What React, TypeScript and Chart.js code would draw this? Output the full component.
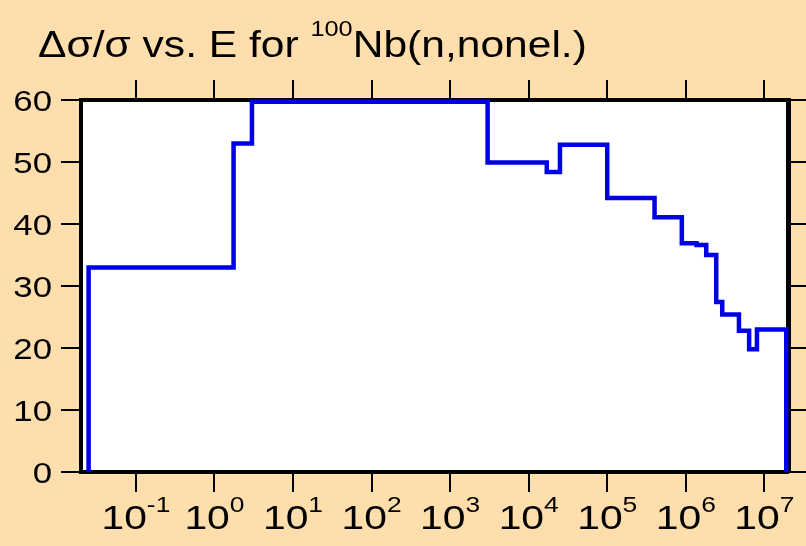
import React, { useEffect, useRef } from 'react';
import { Chart, registerables } from 'chart.js';

Chart.register(...registerables);

// Group boundaries (eV) and the value held in each group
const energies = [0.025, 1.75, 3.0, 3000, 1.7e4, 2.5e4, 1e5, 4e5, 8.9e5, 1.37e6, 1.82e6, 2.44e6, 2.91e6, 4.75e6, 6.4e6, 8.05e6, 1.9e7];
const values = [33.0, 53.0, 59.7, 49.9, 48.4, 52.8, 44.2, 41.1, 36.9, 36.6, 35.0, 27.4, 25.4, 22.8, 19.8, 23.0];

const yTicks = [0, 10, 20, 30, 40, 50, 60];
const xExponents = [-1, 0, 1, 2, 3, 4, 5, 6, 7];

const titleMain = 'Δσ/σ vs. E for ';
const titleSup = '100';
const titleEnd = 'Nb(n,nonel.)';

const X_MIN = 0.02;
const X_MAX = 2e7;
const Y_MIN = 0;
const Y_MAX = 60;

const FONT = '"Liberation Sans", Arial, Helvetica, sans-serif';
const STRETCH = 1.2;
const TITLE_STRETCH = 1.15;
const BG = '#ffdead';
const LINE = '#0000e6';

function buildPoints() {
  const pts: { x: number; y: number }[] = [{ x: energies[0], y: 0 }];
  for (let i = 0; i < values.length; i++) pts.push({ x: energies[i], y: values[i] });
  const last = energies[energies.length - 1];
  pts.push({ x: last, y: values[values.length - 1] });
  pts.push({ x: last, y: 0 });
  return pts;
}

const bgPlugin = {
  id: 'bgPlugin',
  beforeDraw(chart: any) {
    const { ctx, chartArea } = chart;
    ctx.save();
    ctx.fillStyle = BG;
    ctx.fillRect(0, 0, chart.width, chart.height);
    ctx.fillStyle = '#ffffff';
    ctx.fillRect(chartArea.left, chartArea.top, chartArea.right - chartArea.left, chartArea.bottom - chartArea.top);
    ctx.restore();
  },
};

const textPlugin = {
  id: 'textPlugin',
  afterDraw(chart: any) {
    const { ctx } = chart;
    const xs = chart.scales.x;
    const ys = chart.scales.y;
    ctx.save();
    ctx.fillStyle = '#000';
    ctx.textAlign = 'left';
    ctx.textBaseline = 'alphabetic';

    // Title
    ctx.save();
    ctx.translate(38, 56.7);
    ctx.scale(TITLE_STRETCH, 1);
    ctx.font = `37px ${FONT}`;
    ctx.fillText(titleMain, 0, 0);
    let w = ctx.measureText(titleMain).width;
    ctx.font = `22px ${FONT}`;
    ctx.fillText(titleSup, w, -20.5);
    w += ctx.measureText(titleSup).width;
    ctx.font = `37px ${FONT}`;
    ctx.fillText(titleEnd, w, 0);
    ctx.restore();

    // Y tick labels
    ctx.font = `29px ${FONT}`;
    for (const v of yTicks) {
      const py = ys.getPixelForValue(v);
      const s = String(v);
      const tw = ctx.measureText(s).width * STRETCH;
      ctx.save();
      ctx.translate(52 - tw, py + 11);
      ctx.scale(STRETCH, 1);
      ctx.fillText(s, 0, 0);
      ctx.restore();
    }

    // X tick labels 10^n
    for (const e of xExponents) {
      const px = xs.getPixelForValue(Math.pow(10, e));
      ctx.font = `34px ${FONT}`;
      const wb = ctx.measureText('10').width;
      ctx.font = `22px ${FONT}`;
      const es = String(e);
      const we = ctx.measureText(es).width;
      const total = (wb + we) * STRETCH;
      ctx.save();
      ctx.translate(px - total / 2, 529.3);
      ctx.scale(STRETCH, 1);
      ctx.font = `34px ${FONT}`;
      ctx.fillText('10', 0, 0);
      ctx.font = `22px ${FONT}`;
      ctx.fillText(es, wb, -17.8);
      ctx.restore();
    }
    ctx.restore();
  },
};

const gridOpts = {
  drawOnChartArea: false,
  drawTicks: true,
  tickLength: 20,
  lineWidth: 2,
  color: '#000',
};
const borderOpts = { display: true, width: 4, color: '#000' };

export default function App() {
  const ref = useRef<HTMLCanvasElement | null>(null);
  useEffect(() => {
    if (!ref.current) return;
    const chart = new Chart(ref.current, {
      type: 'line',
      data: {
        datasets: [
          {
            data: buildPoints(),
            xAxisID: 'x',
            yAxisID: 'y',
            borderColor: LINE,
            borderWidth: 4.5,
            stepped: 'before',
            pointRadius: 0,
            fill: false,
            clip: false,
            borderCapStyle: 'butt',
            borderJoinStyle: 'miter',
          } as any,
        ],
      },
      options: {
        animation: false,
        responsive: false,
        devicePixelRatio: 1,
        events: [],
        layout: { padding: 0 },
        plugins: { legend: { display: false }, tooltip: { enabled: false }, title: { display: false } },
        scales: {
          x: {
            type: 'logarithmic',
            position: 'bottom',
            min: X_MIN,
            max: X_MAX,
            afterBuildTicks: (s: any) => { s.ticks = xExponents.map((e) => ({ value: Math.pow(10, e) })); },
            afterFit: (s: any) => { s.height = 74; },
            ticks: { display: false },
            grid: gridOpts,
            border: borderOpts,
          },
          xTop: {
            type: 'logarithmic',
            position: 'top',
            min: X_MIN,
            max: X_MAX,
            afterBuildTicks: (s: any) => { s.ticks = xExponents.map((e) => ({ value: Math.pow(10, e) })); },
            afterFit: (s: any) => { s.height = 100; },
            ticks: { display: false },
            grid: gridOpts,
            border: borderOpts,
          },
          y: {
            type: 'linear',
            position: 'left',
            min: Y_MIN,
            max: Y_MAX,
            afterBuildTicks: (s: any) => { s.ticks = yTicks.map((v) => ({ value: v })); },
            afterFit: (s: any) => { s.width = 81; },
            ticks: { display: false },
            grid: gridOpts,
            border: borderOpts,
          },
          yRight: {
            type: 'linear',
            position: 'right',
            min: Y_MIN,
            max: Y_MAX,
            afterBuildTicks: (s: any) => { s.ticks = yTicks.map((v) => ({ value: v })); },
            afterFit: (s: any) => { s.width = 18; },
            ticks: { display: false },
            grid: gridOpts,
            border: { display: true, width: 5, color: '#000' },
          },
        },
      } as any,
      plugins: [bgPlugin, textPlugin],
    });
    return () => chart.destroy();
  }, []);
  return (
    <div style={{ position: 'absolute', left: 0, top: 0, width: 806, height: 546, background: BG }}>
      <canvas ref={ref} width={806} height={546} style={{ display: 'block' }} />
    </div>
  );
}
